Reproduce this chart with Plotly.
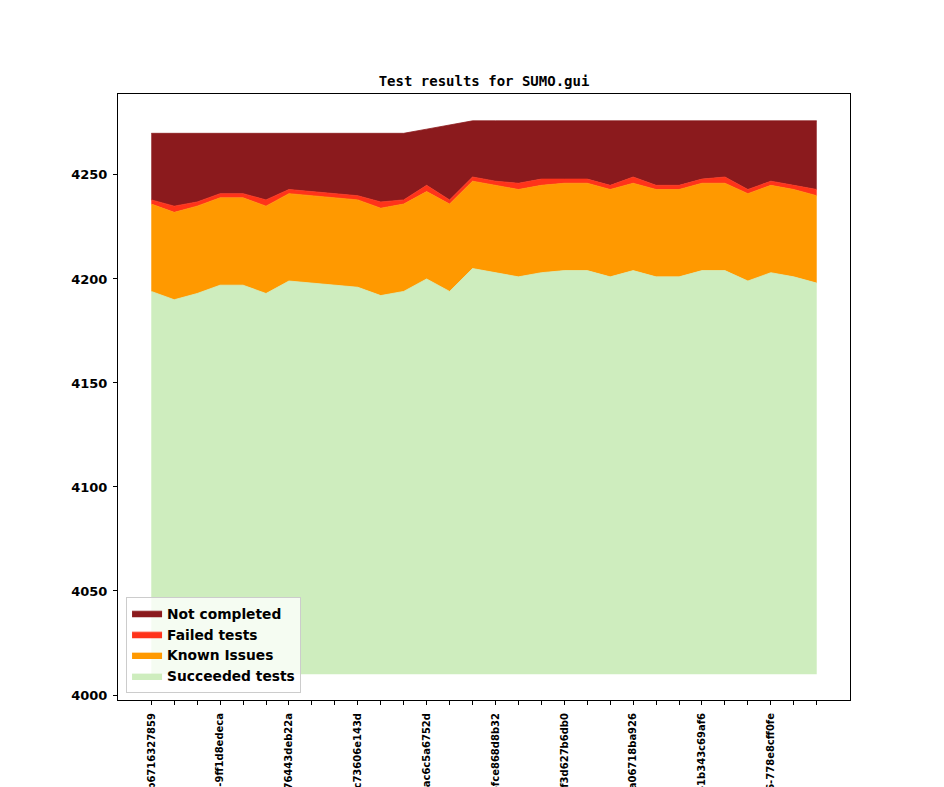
import plotly.graph_objects as go

# ---- data ----
base_value = 4010
tick_labels = [
    "v1_20_0+0100-b6716327859",
    "v1_20_0+0127-9ff1d8edeca",
    "v1_20_0+0152-76443deb22a",
    "v1_20_0+0178-c73606e143d",
    "v1_20_0+0203-ac6c5a6752d",
    "v1_20_0+0231-fce868d8b32",
    "v1_20_0+0259-f3d627b6db0",
    "v1_20_0+0284-a06718ba926",
    "v1_20_0+0311-1b343c69af6",
    "v1_20_0+0336-778e8cff0fe",
]
label_every = 3

succeeded = [4194, 4190, 4193, 4197, 4197, 4193, 4199, 4198, 4197, 4196,
             4192, 4194, 4200, 4194, 4205, 4203, 4201, 4203, 4204, 4204,
             4201, 4204, 4201, 4201, 4204, 4204, 4199, 4203, 4201, 4198]
known_top = [4236, 4232, 4235, 4239, 4239, 4235, 4241, 4240, 4239, 4238,
             4234, 4236, 4242, 4236, 4247, 4245, 4243, 4245, 4246, 4246,
             4243, 4246, 4243, 4243, 4246, 4246, 4241, 4245, 4243, 4240]
failed_top = [4238, 4235, 4237, 4241, 4241, 4238, 4243, 4242, 4241, 4240,
              4237, 4238, 4245, 4238, 4249, 4247, 4246, 4248, 4248, 4248,
              4245, 4249, 4245, 4245, 4248, 4249, 4243, 4247, 4245, 4243]
total = [4270, 4270, 4270, 4270, 4270, 4270, 4270, 4270, 4270, 4270,
         4270, 4270, 4272, 4274, 4276, 4276, 4276, 4276, 4276, 4276,
         4276, 4276, 4276, 4276, 4276, 4276, 4276, 4276, 4276, 4276]

known = [k - s for k, s in zip(known_top, succeeded)]
failed = [f - k for f, k in zip(failed_top, known_top)]
not_completed = [t - f for t, f in zip(total, failed_top)]

series_names = ["Succeeded tests", "Known Issues", "Failed tests", "Not completed"]
series_colors = ["#ceedbe", "#ff9900", "#ff331a", "#8b1a1d"]

x = list(range(len(succeeded)))

fig = go.Figure()
fig.add_trace(go.Scatter(x=x, y=[base_value] * len(x), mode="lines",
                         line=dict(width=0, color="rgba(0,0,0,0)"),
                         showlegend=False, hoverinfo="skip"))

cum = [base_value] * len(x)
layers = [[s - base_value for s in succeeded], known, failed, not_completed]
for name, vals, col in zip(series_names, layers, series_colors):
    cum = [c + v for c, v in zip(cum, vals)]
    fig.add_trace(go.Scatter(x=x, y=cum, mode="lines", name=name,
                             line=dict(width=0.8, color=col),
                             fill="tonexty", fillcolor=col))

tickvals = x
ticktext = [""] * len(x)
for j, lab in enumerate(tick_labels):
    ticktext[j * label_every] = lab

W, H = 936, 779
fig.update_layout(
    width=W, height=H,
    template="none",
    paper_bgcolor="white", plot_bgcolor="white",
    margin=dict(l=110, r=94, t=86, b=87, autoexpand=False),
    title=dict(text="Test results for SUMO.gui", x=(476 / W), xanchor="center",
               y=1 - 73 / H, yanchor="middle",
               font=dict(family="DejaVu Sans Mono", size=14, color="black", weight="bold")),
    showlegend=True,
    legend=dict(x=0.011, y=0.012, xanchor="left", yanchor="bottom",
                traceorder="reversed",
                bgcolor="rgba(255,255,255,0.8)", bordercolor="#cccccc", borderwidth=1,
                font=dict(family="DejaVu Sans", size=13.8, color="black", weight="bold")),
    xaxis=dict(range=[-1.45, 30.45], tickmode="array", tickvals=tickvals, ticktext=ticktext,
               tickangle=-90, ticks="outside", ticklen=4, tickcolor="black",
               showline=True, linecolor="black", linewidth=1, mirror=True,
               showgrid=False, zeroline=False, automargin=False, ticklabelstandoff=4,
               tickfont=dict(family="DejaVu Sans", size=10, color="black", weight="bold")),
    yaxis=dict(range=[3997.6, 4288.9], tickmode="array",
               tickvals=[4000, 4050, 4100, 4150, 4200, 4250],
               ticks="outside", ticklen=4, tickcolor="black",
               showline=True, linecolor="black", linewidth=1, mirror=True,
               showgrid=False, zeroline=False, automargin=False, ticklabelstandoff=3,
               tickfont=dict(family="DejaVu Sans", size=13, color="black", weight="bold")),
)

fig.write_html("out.html")
